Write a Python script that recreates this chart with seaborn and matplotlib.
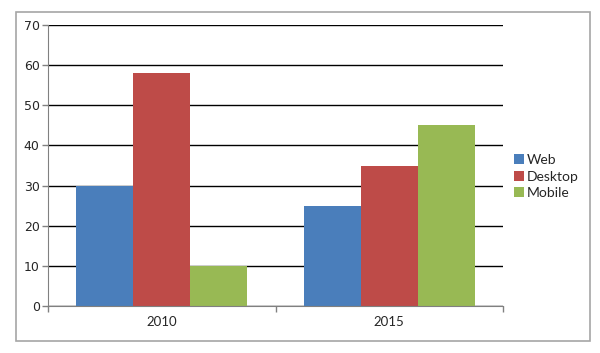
import matplotlib
matplotlib.use('Agg')
import matplotlib.pyplot as plt
from matplotlib.patches import Rectangle
import pandas as pd
import seaborn as sns

years = ['2010', '2015']
platforms = ['Web', 'Desktop', 'Mobile']
web = [30, 25]
desktop = [58, 35]
mobile = [10, 45]
colors = ['#4a7ebb', '#be4b48', '#98b954']

rows = []
for i, y in enumerate(years):
    rows.append((y, 'Web', web[i]))
    rows.append((y, 'Desktop', desktop[i]))
    rows.append((y, 'Mobile', mobile[i]))
df = pd.DataFrame(rows, columns=['year', 'platform', 'value'])

sns.set_style('white')
plt.rcParams['font.family'] = ['DejaVu Sans']

fig = plt.figure(figsize=(6, 3.53), dpi=100)
# outer chart border
fig.patches.append(Rectangle((16 / 600, 1 - 341 / 353), 574 / 600, 329 / 353,
                             transform=fig.transFigure, fill=False,
                             edgecolor='#a6a6a6', linewidth=1.2))

ax = fig.add_axes([48 / 600, 1 - 306 / 353, 455 / 600, 281 / 353])
sns.barplot(data=df, x='year', y='value', hue='platform', hue_order=platforms,
            palette=colors, width=0.75, saturation=1, ax=ax, linewidth=0)

ax.set_ylim(0, 70)
ax.set_yticks(range(0, 71, 10))
ax.set_xlim(-0.5, 1.5)
ax.yaxis.grid(True, color='black', linewidth=1)
ax.set_axisbelow(True)
for s in ['top', 'right']:
    ax.spines[s].set_visible(False)
ax.spines['left'].set_color('#808080')
ax.spines['bottom'].set_color('#808080')
ax.set_xlabel('')
ax.set_ylabel('')
ax.tick_params(axis='y', length=4, width=1, color='#808080', labelsize=9, pad=2, left=True)
ax.tick_params(axis='x', length=0, labelsize=9.5, pad=7)
for lab in ax.get_xticklabels():
    lab.set_family('Lato')
# category boundary ticks
ax.set_xticks([-0.5, 0.5, 1.5], minor=True)
ax.tick_params(axis='x', which='minor', length=4, width=1, color='#808080', bottom=True)

leg = ax.legend(loc='upper left', bbox_to_anchor=(514 / 600, 1 - 154 / 353),
                bbox_transform=fig.transFigure, frameon=False, borderaxespad=0,
                borderpad=0, handlelength=0.75, handleheight=0.75, handletextpad=0.2,
                labelspacing=0.33, prop={'family': 'Lato', 'size': 10})

fig.savefig('out.png', dpi=100)
